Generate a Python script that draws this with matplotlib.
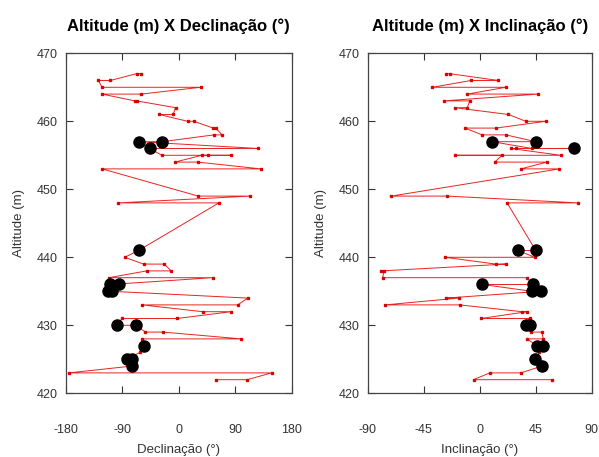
import matplotlib.pyplot as plt

plt.rcParams['font.family'] = ['Liberation Sans', 'DejaVu Sans']

# Declinação: altitude (m) and declination (°), in sampling order
dec_alt = [467, 467, 466, 466, 465, 465, 464, 464, 463, 463, 462, 461, 461,
           460, 460, 459, 459, 458, 458, 457, 457, 456, 456, 455, 455, 455, 455,
           454, 454, 453, 453, 449, 449, 448, 448, 441, 440, 439, 439, 438, 438,
           437, 437, 436, 436, 435, 435, 434, 433, 433, 432, 432, 431, 431,
           430, 430, 429, 429, 428, 428, 427, 426, 425, 425, 424, 423, 423,
           422, 422]
dec_val = [-60, -67, -109, -128, -122, 35, -60, -122, -70, -67, -5, -9, -31,
           14, 24, 55, 59, 69, 56, -26, -64, 127, -46, -27, 84, 46, 37,
           -6, 30, 131, -122, 31, 114, -96, 64, -64, -86, -56, -23, -12, -51,
           -111, 54, -109, -95, -112, -107, 110, 94, -58, 38, 84, -3, -90,
           -99, -68, -53, -25, 100, -58, -56, -62, -83, -75, -75, -175, 148,
           109, 60]
dec_black_alt = [457, 457, 456, 441, 436, 436, 435, 435, 430, 430, 427, 425, 425, 424]
dec_black_val = [-26, -64, -46, -64, -109, -95, -112, -107, -99, -68, -56, -83, -75, -75]

# Inclinação: altitude (m) and inclination (°)
inc_alt = [467, 467, 466, 466, 465, 465, 464, 464, 463, 463, 462, 462, 461,
           460, 460, 459, 459, 458, 458, 457, 457, 456, 456, 456, 456,
           455, 455, 455, 454, 454, 453, 453, 449, 449, 448, 448, 441, 441,
           440, 440, 439, 439, 438, 438, 437, 437, 436, 436, 435, 435, 434, 434,
           433, 433, 432, 432, 431, 431, 430, 430, 429, 429, 428, 428, 427, 427,
           426, 425, 424, 423, 423, 422, 422]
inc_val = [-27, -24, 15, -7, -38, 21, -10, 47, -29, -8, -10, -20, 23,
           37, 53, 13, -12, 2, 21, 45, 10, 42, 76, 29, 25,
           65, -20, 18, 12, 54, 33, 64, -71, -26, 79, 22, 45, 31,
           44, -28, 13, 21, -79, -77, -78, 38, 43, 2, 42, 49, -27, -17,
           -76, -16, 34, 38, 1, 40, 37, 40, 41, 50, 51, 38, 46, 51,
           48, 44, 50, 33, 8, -5, 58]
inc_black_alt = [457, 457, 456, 441, 441, 436, 436, 435, 435, 430, 430, 427, 427, 425, 424]
inc_black_val = [45, 10, 76, 45, 31, 43, 2, 42, 49, 37, 40, 46, 51, 44, 50]

fig = plt.figure(figsize=(5.99, 4.57), dpi=100)
ax1 = fig.add_axes([0.1097, 0.1394, 0.3773, 0.744])
ax2 = fig.add_axes([0.6139, 0.1394, 0.3740, 0.744])

panels = [
    (ax1, dec_val, dec_alt, dec_black_val, dec_black_alt, (-180, 180),
     [-180, -90, 0, 90, 180], "Declinação (°)", "Altitude (m) X Declinação (°)"),
    (ax2, inc_val, inc_alt, inc_black_val, inc_black_alt, (-90, 90),
     [-90, -45, 0, 45, 90], "Inclinação (°)", "Altitude (m) X Inclinação (°)"),
]

for ax, xv, yv, bx, by, xlim, xt, xlab, title in panels:
    ax.plot(xv, yv, color="#e8231f", lw=0.7, marker="s", ms=1.8, mec="#dd0000",
            mfc="#dd0000", zorder=2)
    ax.plot(bx, by, "o", color="black", ms=8, zorder=3)
    ax.set_xlim(xlim)
    ax.set_ylim(420, 470)
    ax.set_xticks(xt)
    ax.set_xticklabels([str(t) for t in xt])
    ax.set_yticks([420, 430, 440, 450, 460, 470])
    ax.tick_params(direction="in", length=5, width=0.8, top=True, right=True,
                   labelsize=9, colors="#333333")
    ax.tick_params(axis="x", pad=22)
    ax.tick_params(axis="y", pad=6)
    for s in ax.spines.values():
        s.set_color("#444444")
        s.set_linewidth(0.9)
    ax.set_xlabel(xlab, fontsize=9.5, color="#333333", labelpad=6)
    ax.set_ylabel("Altitude (m)", fontsize=9.5, color="#333333", labelpad=8)
    ax.set_title(title, fontsize=12, fontweight="bold", pad=16)

fig.savefig("out.png", dpi=100)
